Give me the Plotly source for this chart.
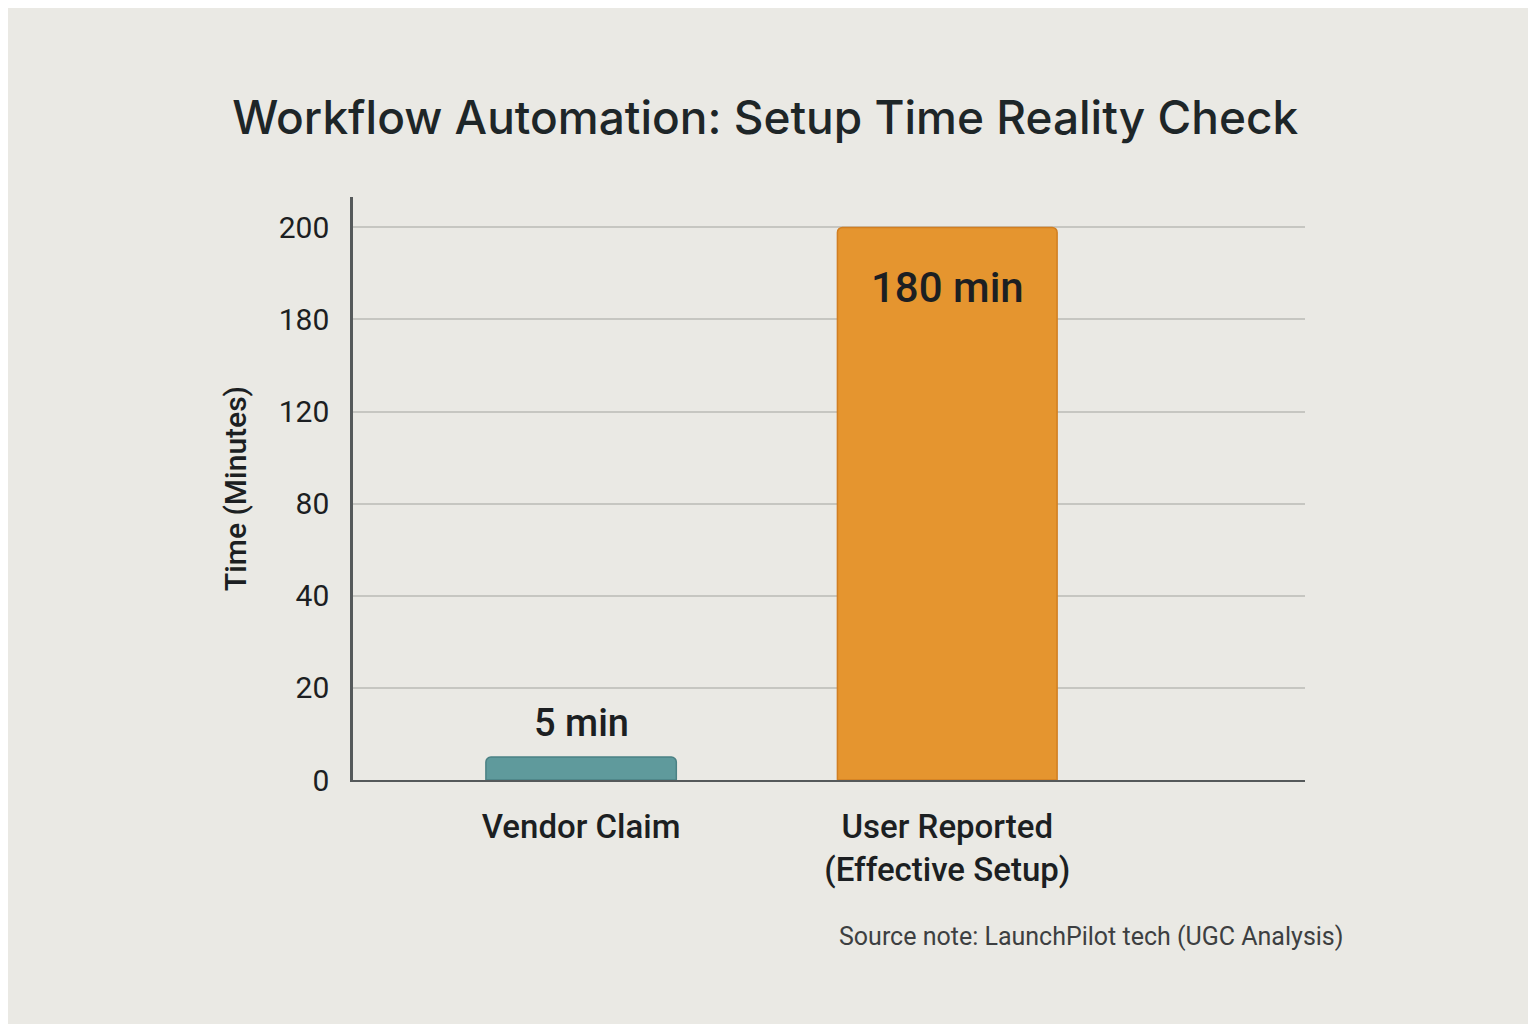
import numpy as np
import plotly.graph_objects as go

# data
categories = ["Vendor Claim", "User Reported<br>(Effective Setup)"]
bar_heights = [5, 200]          # heights as drawn against the y axis
bar_labels = ["5 min", "180 min"]
tick_values = [0, 20, 40, 80, 120, 180, 200]
tick_labels = ["0", "20", "40", "80", "120", "180", "200"]
bar_colors = ["#5f9a9c", "#e5952f"]
bar_widths = [0.52, 0.60]

# axis ticks are evenly spaced, so map values through the tick list
tick_pos = list(range(len(tick_values)))
bar_pos = np.interp(bar_heights, tick_values, tick_pos)
x_pos = list(range(len(categories)))

fig = go.Figure()
fig.add_trace(go.Bar(
    x=x_pos, y=bar_pos, width=bar_widths,
    marker=dict(color=bar_colors, line=dict(color=["#4b8184", "#d17f22"], width=1.5), cornerradius=5),
    hoverinfo="skip",
))

# bar value labels
fig.add_annotation(x=x_pos[0], y=bar_pos[0], text=bar_labels[0], showarrow=False,
                   yshift=34, font=dict(family="Roboto", size=38, color="#1c1f22", weight=500))
fig.add_annotation(x=x_pos[1], y=bar_pos[1], text=bar_labels[1], showarrow=False,
                   yshift=-60, font=dict(family="Roboto", size=42, color="#1c1f22", weight=500))

fig.add_annotation(xref="paper", yref="paper", x=1.042, y=-0.296, xanchor="right",
                   text="Source note: LaunchPilot tech (UGC Analysis)", showarrow=False,
                   font=dict(family="Roboto", size=25, color="#3d3f41"))

fig.update_layout(
    width=1536, height=1024,
    paper_bgcolor="#eae9e4", plot_bgcolor="rgba(0,0,0,0)",
    margin=dict(l=345, r=239, t=189, b=252),
    showlegend=False,
    title=dict(text="Workflow Automation: Setup Time Reality Check", x=0.493, xanchor="center",
               y=0.893, yanchor="middle",
               font=dict(family="Inter", size=46, color="#1e2628", weight=500)),
    xaxis=dict(range=[-0.623, 1.977], tickvals=x_pos, ticktext=categories,
               showgrid=False, zeroline=False, showline=True, linecolor="#55595a", linewidth=2,
               ticks="", ticklabelstandoff=16,
               tickfont=dict(family="Roboto", size=33, color="#1c1f22", weight=500)),
    yaxis=dict(range=[0, 6.33], tickvals=tick_pos, ticktext=tick_labels,
               showgrid=True, gridcolor="#c6c6c1", gridwidth=2, zeroline=False,
               showline=True, linecolor="#55595a", linewidth=2.5, ticks="", ticklabelstandoff=15,
               tickfont=dict(family="Roboto", size=30, color="#1c1f22"),
               title=dict(text="Time (Minutes)", standoff=24,
                          font=dict(family="Roboto", size=30, color="#1c1f22", weight=500))),
)

fig.write_html("out.html")
